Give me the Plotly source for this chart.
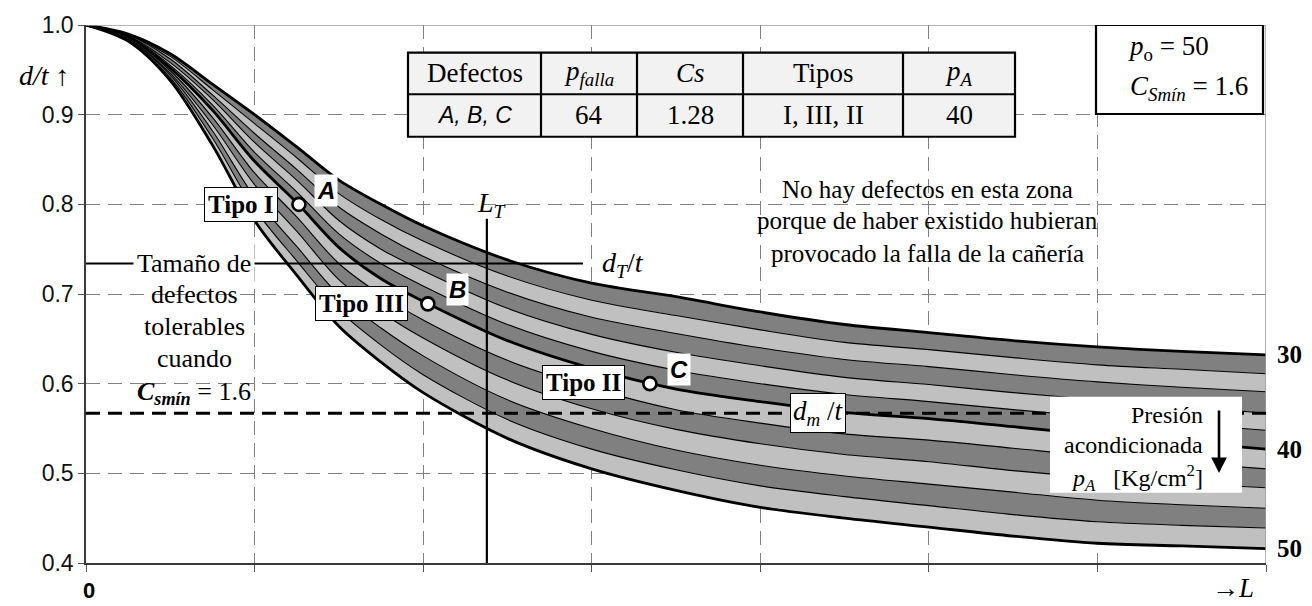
import plotly.graph_objects as go

# Longitud del defecto (unidades arbitrarias) y curvas d/t para cada presión acondicionada p_A
L = [0, 0.25, 0.5, 0.75, 1.0, 1.25, 1.5, 1.75, 2.0, 2.5, 3.0, 3.5, 4.0, 4.5, 5.0, 5.5, 6.0, 6.5, 7.0]

p30 = [1.0, .990, .968, .934, .900, .864, .827, .800, .776, .738, .712, .697, .680, .666, .657, .648, .641, .636, .632]
p32 = [1.0, .989, .965, .928, .890, .852, .812, .783, .759, .720, .693, .676, .660, .646, .638, .629, .621, .616, .611]
p34 = [1.0, .989, .962, .922, .879, .839, .797, .767, .742, .702, .674, .656, .640, .627, .619, .610, .602, .596, .591]
p36 = [1.0, .988, .958, .917, .869, .827, .782, .750, .726, .684, .655, .635, .620, .607, .599, .590, .582, .575, .567]
p38 = [1.0, .988, .955, .911, .858, .814, .767, .734, .709, .666, .636, .615, .600, .588, .580, .571, .563, .555, .548]
p40 = [1.0, .987, .952, .905, .848, .802, .752, .717, .692, .648, .617, .594, .580, .568, .561, .552, .543, .535, .527]
p42 = [1.0, .986, .949, .897, .835, .786, .734, .699, .671, .626, .595, .571, .556, .544, .537, .528, .519, .512, .505]
p44 = [1.0, .985, .946, .889, .822, .770, .716, .680, .651, .604, .572, .549, .533, .521, .513, .503, .495, .489, .484]
p46 = [1.0, .984, .944, .882, .808, .753, .699, .662, .631, .582, .550, .526, .509, .497, .488, .479, .470, .465, .461]
p48 = [1.0, .983, .941, .874, .795, .737, .682, .643, .610, .560, .527, .504, .486, .474, .464, .454, .446, .442, .439]
p50 = [1.0, .982, .938, .866, .782, .721, .664, .624, .590, .539, .505, .481, .462, .450, .440, .430, .422, .419, .416]

presiones = [30, 32, 34, 36, 38, 40, 42, 44, 46, 48, 50]
curvas = [p30, p32, p34, p36, p38, p40, p42, p44, p46, p48, p50]

# Defectos A, B, C sobre la curva p_A = 40
def_nombres = ["A", "B", "C"]
def_tipos = ["Tipo I", "Tipo III", "Tipo II"]
def_L = [1.263, 2.028, 3.345]
def_dt = [0.800, 0.689, 0.600]

L_T = 2.378      # longitud de transición
dT_t = 0.734     # tamaño de transición
dm_t = 0.567     # profundidad máxima tolerable

y_ticks = [0.4, 0.5, 0.6, 0.7, 0.8, 0.9, 1.0]

tabla_enc = ["Defectos", "<i>p<sub>falla</sub></i>", "<i>Cs</i>", "Tipos", "<i>p<sub>A</sub></i>"]
tabla_val = ["<i>A, B, C</i>", "64", "1.28", "I, III, II", "40"]

SERIF = "Liberation Serif"
SANS = "Liberation Sans"
OSCURO = "#808080"
CLARO = "#c0c0c0"

# conversión de píxeles de la figura a coordenadas de datos / papel (para ubicar rótulos)
X0, XU = 86, 168.57
Y0, YU = 19, 906.7
ANCHO, ALTO, BASE = 1180, 544, 563


def px(x):
    return (x - X0) / XU


def py(y):
    return 1.0 - (y - Y0) / YU


fig = go.Figure()

for i, (p, c) in enumerate(zip(presiones, curvas)):
    grueso = p in (30, 40, 50)
    fig.add_trace(go.Scatter(
        x=L, y=c, mode="lines",
        line=dict(color="black", width=2.8 if grueso else 1.1, shape="spline", smoothing=0.9),
        fill="tonexty" if i > 0 else None,
        fillcolor=(OSCURO if (i - 1) % 2 == 0 else CLARO) if i > 0 else None,
        showlegend=False, hoverinfo="skip",
    ))

fig.add_trace(go.Scatter(
    x=def_L, y=def_dt, mode="markers",
    marker=dict(symbol="circle", size=13, color="white", line=dict(color="black", width=2.6)),
    showlegend=False, hoverinfo="skip",
))

shapes = []
# bordes superior y derecho
shapes.append(dict(type="line", xref="x", yref="y", x0=0, x1=7, y0=1.0, y1=1.0,
                   line=dict(color="#9a9a9a", width=1.5), layer="above"))
shapes.append(dict(type="line", xref="x", yref="y", x0=7, x1=7, y0=0.4, y1=1.0,
                   line=dict(color="#9a9a9a", width=1.5), layer="above"))
# línea d_m/t
shapes.append(dict(type="line", xref="x", yref="y", x0=0, x1=7, y0=dm_t, y1=dm_t,
                   line=dict(color="black", width=3.2, dash="14px,8px"), layer="above"))
# línea L_T
shapes.append(dict(type="line", xref="x", yref="y", x0=L_T, x1=L_T, y0=0.4, y1=py(215),
                   line=dict(color="black", width=2.2), layer="above"))
# línea d_T/t
shapes.append(dict(type="line", xref="x", yref="y", x0=px(83), x1=px(583), y0=dT_t, y1=dT_t,
                   line=dict(color="black", width=2.2), layer="above"))

# tabla de resultados
col_x = [408, 541, 637, 743, 903, 1015]
fil_y = [47, 89, 132]
shapes.append(dict(type="rect", xref="x", yref="y", x0=px(col_x[0]), x1=px(col_x[-1]),
                   y0=py(fil_y[0]), y1=py(fil_y[-1]), fillcolor="#f2f2f2",
                   line=dict(color="black", width=2.2), layer="above"))
for cx in col_x[1:-1]:
    shapes.append(dict(type="line", xref="x", yref="y", x0=px(cx), x1=px(cx),
                       y0=py(fil_y[0]), y1=py(fil_y[-1]), line=dict(color="black", width=2.2), layer="above"))
shapes.append(dict(type="line", xref="x", yref="y", x0=px(col_x[0]), x1=px(col_x[-1]),
                   y0=py(fil_y[1]), y1=py(fil_y[1]), line=dict(color="black", width=2.2), layer="above"))

# recuadro de datos p_o / C_smín
shapes.append(dict(type="rect", xref="x", yref="y", x0=px(1096), x1=px(1263), y0=py(19), y1=py(109),
                   fillcolor="white", line=dict(color="black", width=2.2), layer="above"))
# fondo del rótulo de presión
shapes.append(dict(type="rect", xref="x", yref="y", x0=px(1050), x1=px(1242), y0=py(395), y1=py(492),
                   fillcolor="white", line=dict(width=0), layer="above"))

ann = []


def texto(x, y, t, size, family=SERIF, xanchor="center", **kw):
    ann.append(dict(x=px(x), y=py(y), xref="x", yref="y", text=t, showarrow=False,
                    xanchor=xanchor, yanchor="middle",
                    font=dict(family=family, size=size, color="black"), **kw))


def texto_papel(x, y, t, size, family=SERIF, xanchor="center", yanchor="middle"):
    ann.append(dict(x=(x - X0) / ANCHO, y=(BASE - y) / ALTO, xref="paper", yref="paper", text=t,
                    showarrow=False, xanchor=xanchor, yanchor=yanchor,
                    font=dict(family=family, size=size, color="black")))


# tabla
for j in range(5):
    cx = (col_x[j] + col_x[j + 1]) / 2
    texto(cx, 68, tabla_enc[j], 27)
    texto(cx, 110, tabla_val[j], 23 if j == 0 else 27, family=SANS if j == 0 else SERIF)

# p_o y C_smín
texto(1126, 42, "<i>p</i><sub>o</sub> = 50", 27, xanchor="left")
texto(1128, 83, "<i>C<sub>Smín</sub></i> = 1.6", 27, xanchor="left")

# ejes
texto_papel(44, 70, "<i>d/t</i> ↑", 28)
texto_papel(89, 605, "<b>0</b>", 22, family=SANS, yanchor="bottom")
texto_papel(1233, 605, "→<i>L</i>", 27, yanchor="bottom")

# rótulos de presión a la derecha
for p, c in zip(presiones, curvas):
    if p in (30, 40, 50):
        ann.append(dict(x=7, y=c[-1], xref="x", yref="y", text=f"<b>{p}</b>", showarrow=False,
                        xanchor="left", yanchor="middle", xshift=9,
                        font=dict(family=SERIF, size=25, color="black")))

# tipos y defectos
tipo_pos = [(241, 200), (361, 301), (583, 380)]
letra_pos = [(326, 186), (457, 286), (679, 367)]
for (tx, ty), (lx, ly), t, n in zip(tipo_pos, letra_pos, def_tipos, def_nombres):
    texto(tx, ty, f"<b>{t}</b>", 25, bgcolor="white", bordercolor="black", borderwidth=1, borderpad=3)
    texto(lx, ly, f"<b><i>{n}</i></b>", 24, family=SANS, bgcolor="white", borderpad=2)

# L_T y d_T/t
texto(492, 200, "<i>L<sub>T</sub></i>", 28)
texto(623, 261, "<i>d<sub>T</sub></i>/<i>t</i>", 28)

# d_m/t
texto(818, 411, "<i>d<sub>m</sub></i> /<i>t</i>", 27, bgcolor="white", bordercolor="black",
      borderwidth=1, borderpad=2)

# tamaño de defectos tolerables
texto(194, 260, "Tamaño de", 26, bgcolor="white", borderpad=3)
texto(194, 292, "defectos", 26)
texto(194, 324, "tolerables", 26)
texto(194, 356, "cuando", 26)
texto(194, 391, "<b><i>C<sub>smín</sub></i></b> = 1.6", 26)

# zona sin defectos
texto(927, 185, "No hay defectos en esta zona", 25)
texto(927, 217, "porque de haber existido hubieran", 25)
texto(927, 250, "provocado la falla de la cañería", 25)

# presión acondicionada
texto(1205, 413, "Presión", 24, xanchor="right")
texto(1205, 444, "acondicionada", 24, xanchor="right")
texto(1205, 477, "<i>p<sub>A</sub></i>   [Kg/cm<sup>2</sup>]", 24, xanchor="right")
ann.append(dict(x=px(1219), y=py(472), xref="x", yref="y", ax=0, ay=-64, axref="pixel", ayref="pixel",
                text="", showarrow=True, arrowhead=2, arrowsize=1.2, arrowwidth=2.6, arrowcolor="black"))

fig.update_layout(
    width=1312, height=606,
    margin=dict(l=86, r=46, t=19, b=43),
    plot_bgcolor="white", paper_bgcolor="white",
    shapes=shapes, annotations=ann,
    xaxis=dict(range=[0, 7], dtick=1, tick0=0, showgrid=True, gridcolor="#808080", gridwidth=1,
               griddash="14px,8px", zeroline=False, showline=True, linecolor="#3a3a3a", linewidth=1.5,
               ticks="outside", ticklen=7, tickcolor="#555", showticklabels=False, layer="above traces",
               fixedrange=True),
    yaxis=dict(range=[0.4, 1.0], tickvals=y_ticks, tickformat=".1f", showgrid=True, gridcolor="#808080",
               gridwidth=1, griddash="14px,8px", zeroline=False, showline=True, linecolor="#3a3a3a",
               linewidth=1.5, ticks="outside", ticklen=6, tickcolor="#555",
               tickfont=dict(family=SANS, size=23, color="#111"), layer="above traces", fixedrange=True),
)

fig.write_html("out.html")
